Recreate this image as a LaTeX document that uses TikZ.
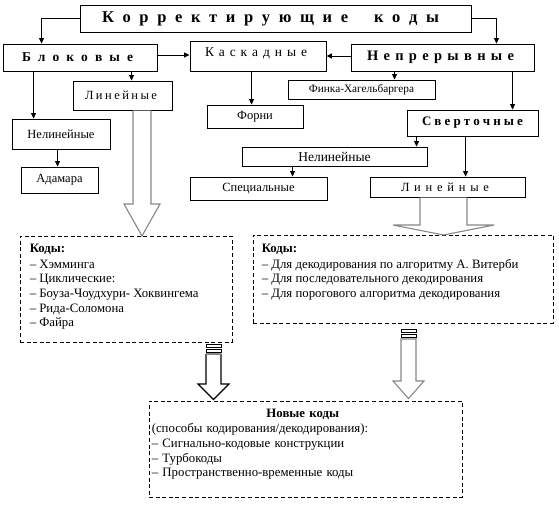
\documentclass[tikz,border=0pt]{standalone}
\usepackage{fontspec}
\setmainfont{Liberation Serif}
\usetikzlibrary{arrows.meta,calc}
\definecolor{hgray}{RGB}{135,135,135}
\begin{document}
\begin{tikzpicture}[x=1pt,y=-1pt,
  box/.style={draw, line width=0.9pt, inner sep=0pt, font=\fontsize{12.5}{14.5}\selectfont},
  dbox/.style={draw, line width=0.9pt, dash pattern=on 4pt off 2.6pt, inner sep=0pt},
  arr/.style={-{Triangle[length=5.5pt,width=5pt]}, line width=0.9pt},
  hollow/.style={draw=hgray, line width=1.1pt, fill=white, line join=miter},
  hollowk/.style={draw=black, line width=1.1pt, fill=white, line join=miter},
  stripe/.style={draw=black, line width=0.8pt, fill=white},
  txt/.style={anchor=north west, align=left, inner sep=0pt, font=\fontsize{12.8}{14.6}\selectfont},
]
\useasboundingbox (0,0) rectangle (559,509);

% boxes
\node[box, minimum width=391pt, minimum height=27pt] (top) at (275.5,18.5)
  {\fontsize{16.5}{18}\selectfont\bfseries\makebox[337pt][s]{К о р р е к т и р у ю щ и е \ \ к о д ы}\hspace*{10pt}};
\node[box, minimum width=154pt, minimum height=27pt] (blok) at (80,57.5)
  {\fontsize{13.5}{15}\selectfont\bfseries\makebox[111pt][s]{Б л о к о в ы е}\hspace*{5pt}};
\node[box, minimum width=136pt, minimum height=30pt] (kask) at (258,56)
  {\fontsize{13.5}{15}\selectfont\raisebox{3pt}[9pt][3pt]{\makebox[102pt][s]{К а с к а д н ы е}}\hspace*{4pt}};
\node[box, minimum width=183pt, minimum height=27pt] (nepr) at (442.5,57.5)
  {\fontsize{14.5}{16}\selectfont\bfseries\makebox[147pt][s]{Н е п р е р ы в н ы е}\hspace*{4pt}};
\node[box, minimum width=99pt, minimum height=29pt] (linL) at (122.5,95.5)
  {\fontsize{12.5}{14}\selectfont\makebox[72pt][s]{Л и н е й н ы е}\hspace*{3pt}};
\node[box, minimum width=98pt, minimum height=30pt] (nelL) at (61,134) {Нелинейные};
\node[box, minimum width=77pt, minimum height=26pt] (adam) at (59.5,180) {Адамара};
\node[box, minimum width=96pt, minimum height=23pt] (forni) at (255,116.5) {Форни};
\node[box, minimum width=147pt, minimum height=19pt] (fink) at (361.5,89.5)
  {\fontsize{11.3}{13}\selectfont Финка-Хагельбаргера};
\node[box, minimum width=131pt, minimum height=26pt] (svert) at (472.5,123)
  {\fontsize{13}{15}\selectfont\bfseries\makebox[101pt][s]{С в е р т о ч н ы е}};
\node[box, minimum width=185pt, minimum height=19pt] (nelR) at (334.5,156.5)
  {\fontsize{13.5}{15}\selectfont Нелинейные};
\node[box, minimum width=137pt, minimum height=23pt] (spec) at (258.5,188.5) {Специальные};
\node[box, minimum width=155pt, minimum height=20pt] (linR) at (447.5,187)
  {\makebox[88pt][s]{Л и н е й н ы е}\hspace*{5pt}};

% dashed boxes
\node[dbox, minimum width=212pt, minimum height=106pt] (kodyL) at (126,289) {};
\node[dbox, minimum width=300pt, minimum height=88pt] (kodyR) at (403,279) {};
\node[dbox, minimum width=313pt, minimum height=96pt] (new) at (305.5,449) {};

\node[txt] (kodyLt) at ($(kodyL.north west)+(10,8.5)$)
  {\textbf{Коды:}\\[1pt]
   – Хэмминга\\
   – Циклические:\\
   – Боуза-Чоудхури- Хоквингема\\
   – Рида-Соломона\\
   – Файра};
\node[txt] (kodyRt) at ($(kodyR.north west)+(9,9.5)$)
  {\textbf{Коды:}\\[1pt]
   – Для декодирования по алгоритму А. Витерби\\
   – Для последовательного декодирования\\
   – Для порогового алгоритма декодирования};
\node[txt, text width=306pt, font=\fontsize{12.8}{14.8}\selectfont] (newt) at ($(new.north west)+(3,8.5)$)
  {\makebox[302pt]{\textbf{Новые коды}}\\
   (способы кодирования/декодирования):\\
   – Сигнально-кодовые конструкции\\
   – Турбокоды\\
   – Пространственно-временные коды};

% connectors
\draw[arr] (top.west) -| ($(blok.north west)+(39,0)$);
\draw[arr] (top.east) -| ($(nepr.north east)+(-38,0)$);
\draw[arr] ([yshift=2.5pt]blok.east) coordinate (b1) -- (b1 -| kask.west);
\draw[arr] ([yshift=1.5pt]nepr.west) coordinate (n1) -- (n1 -| kask.east);
\draw[arr] ($(blok.south west)+(129,0)$) coordinate (b2) -- (b2 |- linL.north);
\draw[arr] ($(blok.south west)+(31,0)$) coordinate (b3) -- (b3 |- nelL.north);
\draw[arr] ($(nelL.south west)+(46,0)$) coordinate (b4) -- (b4 |- adam.north);
\draw[arr] ($(kask.south west)+(62,0)$) coordinate (k1) -- (k1 |- forni.north);
\draw[arr] ($(nepr.south west)+(44,0)$) coordinate (n2) -- (n2 |- fink.north);
\draw[arr] ($(nepr.south west)+(162,0)$) coordinate (n3) -- (n3 |- svert.north);
\draw[arr] ($(svert.south west)+(10,0)$) coordinate (s1) -- (s1 |- nelR.north);
\draw[arr] ($(svert.south west)+(59,0)$) coordinate (s2) -- (s2 |- linR.north);
\draw[arr] ($(nelR.south west)+(51,0)$) coordinate (r1) -- (r1 |- spec.north);

% hollow block arrows
\draw[hollow] (133,110.5) -- (133,204) -- (124,204) -- (142,236) -- (160,204) -- (151,204) -- (151,110.5);
\draw[hollow] (420,197.5) -- (420,225) -- (393,225) -- (443.5,235) -- (494,225) -- (467,225) -- (467,197.5);

\draw[hollowk] (206,354) -- (206,384) -- (198,384) -- (213.5,399.5) -- (229,384) -- (221,384) -- (221,354);
\draw[hgray, line width=1.1pt] (206,354) -- (221,354);
\draw[stripe] (206,344) rectangle (221,347.5);
\draw[stripe] (206,349) rectangle (221,352.5);

\draw[hollow] (401,339) -- (401,381) -- (393,381) -- (408.5,398.5) -- (424,381) -- (416,381) -- (416,339) -- cycle;
\draw[stripe] (401,329) rectangle (416,332.5);
\draw[stripe] (401,334) rectangle (416,337.5);
\end{tikzpicture}
\end{document}
